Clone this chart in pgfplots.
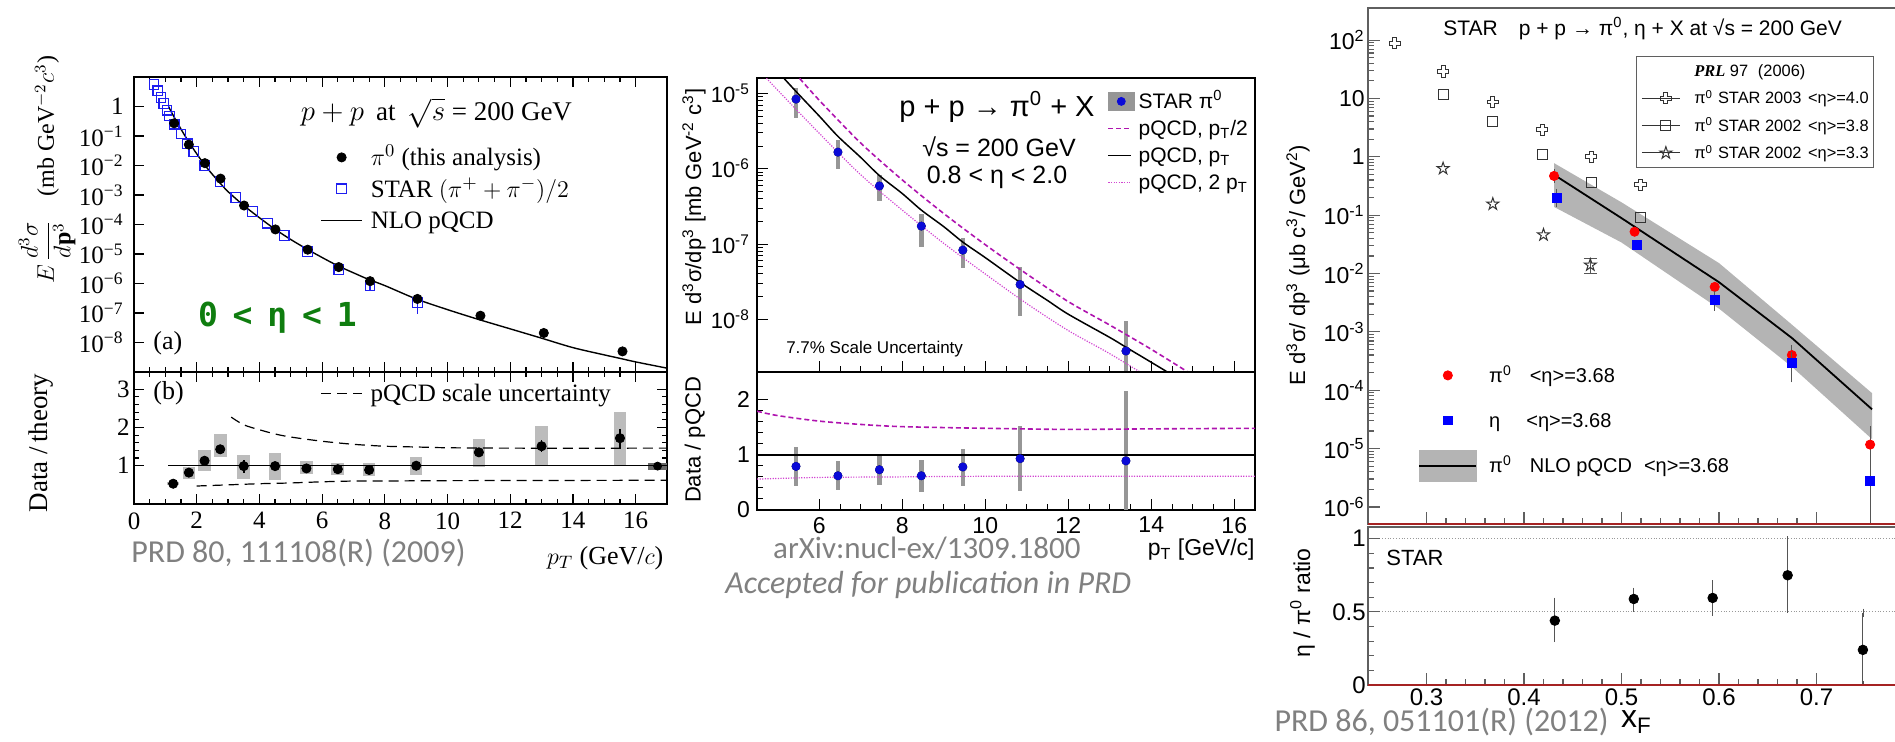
\documentclass[border=0pt]{standalone}
\usepackage{fontspec}
\usepackage{pgfplots}
\pgfplotsset{compat=1.18}
\usetikzlibrary{plotmarks}
\setmainfont{Liberation Serif}
\newfontfamily\helv{Liberation Sans}
\newfontfamily\calib{Carlito}
\newfontfamily\monob{DejaVu Sans Mono}
\newcommand\fs[1]{\fontsize{#1}{#1}\selectfont}
\definecolor{starblue}{RGB}{30,30,240}
\definecolor{boxgray}{RGB}{188,188,188}
\definecolor{darkbox}{RGB}{105,105,105}
\definecolor{prdgray}{RGB}{128,128,128}
\definecolor{etagreen}{RGB}{15,125,15}
\definecolor{magA}{RGB}{175,20,175}
\definecolor{magB}{RGB}{210,70,210}
\definecolor{ptblue}{RGB}{10,10,215}
\definecolor{bargray}{RGB}{150,150,150}
\definecolor{framegray}{RGB}{95,95,95}
\definecolor{bandgray}{RGB}{180,180,180}
\definecolor{redline}{RGB}{165,35,35}
\definecolor{errgray}{RGB}{85,85,85}
\pgfdeclareplotmark{ocross}{%
 \pgfpathmoveto{\pgfqpoint{-0.35\pgfplotmarksize}{\pgfplotmarksize}}%
 \pgfpathlineto{\pgfqpoint{0.35\pgfplotmarksize}{\pgfplotmarksize}}%
 \pgfpathlineto{\pgfqpoint{0.35\pgfplotmarksize}{0.35\pgfplotmarksize}}%
 \pgfpathlineto{\pgfqpoint{\pgfplotmarksize}{0.35\pgfplotmarksize}}%
 \pgfpathlineto{\pgfqpoint{\pgfplotmarksize}{-0.35\pgfplotmarksize}}%
 \pgfpathlineto{\pgfqpoint{0.35\pgfplotmarksize}{-0.35\pgfplotmarksize}}%
 \pgfpathlineto{\pgfqpoint{0.35\pgfplotmarksize}{-\pgfplotmarksize}}%
 \pgfpathlineto{\pgfqpoint{-0.35\pgfplotmarksize}{-\pgfplotmarksize}}%
 \pgfpathlineto{\pgfqpoint{-0.35\pgfplotmarksize}{-0.35\pgfplotmarksize}}%
 \pgfpathlineto{\pgfqpoint{-\pgfplotmarksize}{-0.35\pgfplotmarksize}}%
 \pgfpathlineto{\pgfqpoint{-\pgfplotmarksize}{0.35\pgfplotmarksize}}%
 \pgfpathlineto{\pgfqpoint{-0.35\pgfplotmarksize}{0.35\pgfplotmarksize}}%
 \pgfpathclose\pgfusepathqstroke}
\pgfdeclareplotmark{ostar}{%
 \pgfpathmoveto{\pgfqpoint{0pt}{\pgfplotmarksize}}%
 \pgfpathlineto{\pgfqpoint{0.2245\pgfplotmarksize}{0.309\pgfplotmarksize}}%
 \pgfpathlineto{\pgfqpoint{0.951\pgfplotmarksize}{0.309\pgfplotmarksize}}%
 \pgfpathlineto{\pgfqpoint{0.363\pgfplotmarksize}{-0.118\pgfplotmarksize}}%
 \pgfpathlineto{\pgfqpoint{0.588\pgfplotmarksize}{-0.809\pgfplotmarksize}}%
 \pgfpathlineto{\pgfqpoint{0pt}{-0.382\pgfplotmarksize}}%
 \pgfpathlineto{\pgfqpoint{-0.588\pgfplotmarksize}{-0.809\pgfplotmarksize}}%
 \pgfpathlineto{\pgfqpoint{-0.363\pgfplotmarksize}{-0.118\pgfplotmarksize}}%
 \pgfpathlineto{\pgfqpoint{-0.951\pgfplotmarksize}{0.309\pgfplotmarksize}}%
 \pgfpathlineto{\pgfqpoint{-0.2245\pgfplotmarksize}{0.309\pgfplotmarksize}}%
 \pgfpathclose\pgfusepathqstroke}
\begin{document}
\begin{tikzpicture}
\begin{scope}
\clip (0,0) rectangle (947.5pt,-371pt);
%================ PANEL 1 TOP =================
\begin{axis}[
  at={(67pt,-38.5pt)}, anchor=north west, scale only axis,
  width=266.5pt, height=147.5pt,
  xmin=0, xmax=17, ymode=log, ymin=1e-9, ymax=10,
  clip mode=individual,
  axis line style={line width=1pt},
  every tick/.style={black, line width=0.6pt},
  major tick length=5pt, minor tick length=2.5pt,
  tick align=inside, xtick pos=both, ytick pos=left,
  xtick={0,2,...,16}, minor x tick num=3, xticklabels={},
  ytick={1e-8,1e-7,1e-6,1e-5,1e-4,1e-3,1e-2,1e-1,1},
  yticklabels={10\textsuperscript{−8},10\textsuperscript{−7},10\textsuperscript{−6},10\textsuperscript{−5},10\textsuperscript{−4},10\textsuperscript{−3},10\textsuperscript{−2},10\textsuperscript{−1},1},
  yminorticks=false,
  yticklabel style={font=\fs{12.5}, inner xsep=5pt},
  legend cell align=left,
  legend style={draw=none, fill=none, at={(axis description cs:0.349,0.7695)}, anchor=north west,
    font=\fs{12.5}, inner sep=0pt, row sep=3.75pt,
    nodes={inner sep=0pt, text height=10.1pt, text depth=1.9pt},
    /tikz/every odd column/.style={column sep=4pt}},
  legend image code/.code={\draw[mark repeat=2,mark phase=2,#1] plot coordinates {(0pt,0pt) (10.25pt,0pt) (20.5pt,0pt)};},
]
\addplot[forget plot, black, line width=0.7pt, smooth] coordinates {
 (1.1,1.0) (1.25,0.5) (1.5,0.17) (1.75,0.062) (2,0.025) (2.25,0.0106) (2.5,5.0e-3) (2.75,2.5e-3) (3,1.3e-3) (3.5,4.4e-4) (4,1.7e-4) (4.5,6.9e-5) (5,3.1e-5) (5.5,1.5e-5) (6,7.6e-6) (6.5,4.0e-6) (7,2.3e-6) (7.5,1.35e-6) (8,8.5e-7) (9,3.0e-7) (10,1.3e-7) (11,6.0e-8) (12,2.9e-8) (13,1.4e-8) (14,6.7e-9) (15,3.8e-9) (15.5,2.9e-9) (16,2.2e-9) (17,1.35e-9)};
\addplot[forget plot, only marks, mark=square, mark size=2.4pt, starblue, line width=0.6pt,
  error bars/.cd, y dir=both, y explicit, error mark=none, error bar style={line width=0.8pt, starblue}] coordinates {
 (0.64,5.6) (0.76,3.4) (0.86,2.0) (0.95,1.26) (1.05,0.75) (1.13,0.48) (1.28,0.25) (1.5,0.117) (1.71,0.054) (1.91,0.030) (2.26,0.010) (2.74,2.9e-3) (3.25,8.3e-4) (3.78,2.8e-4) (4.26,1.1e-4) (4.79,4.3e-5) (5.54,1.2e-5) (6.53,3.0e-6) (7.53,8.5e-7) -= (0,2.6e-7) (9.04,2.3e-7) -= (0,1.4e-7)};
\addplot[forget plot, only marks, mark=*, mark size=2.3pt, black] coordinates {
 (1.28,0.27) (1.75,0.051) (2.26,0.012) (2.76,3.6e-3) (3.51,4.4e-4) (4.51,6.8e-5) (5.54,1.4e-5) (6.53,3.6e-6) (7.53,1.2e-6) (9.04,3.0e-7) (11.05,8.1e-8) (13.07,2.1e-8) (15.58,5.0e-9)};
\addlegendimage{only marks, mark=*, mark size=2.3pt, black}
\addlegendentry{$\pi^0$ (this analysis)}
\addlegendimage{only marks, mark=square, mark size=2.4pt, starblue, line width=0.6pt}
\addlegendentry{STAR $(\pi^+ + \pi^-)/2$}
\addlegendimage{black, line width=0.7pt}
\addlegendentry{NLO pQCD}
\node[inner sep=0pt, font=\fs{13.5}] at (axis description cs:0.5675,0.878) {$p+p$\hspace{0.45em}at\hspace{0.45em}$\sqrt{s}$ = 200 GeV};
\node[inner sep=0pt, anchor=west, font=\fs{13}] at (axis description cs:0.0356,0.098) {(a)};
\node[inner sep=0pt, font=\monob\bfseries\fs{16.5}, text=etagreen] at (axis description cs:0.269,0.183) {0\hspace{0.45em}<\hspace{0.45em}η\hspace{0.45em}<\hspace{0.45em}1};
\node[inner sep=0pt, rotate=90, font=\fs{12}] at (axis description cs:-0.163,0.685) {$E\,\displaystyle\frac{d^3\sigma}{d\mathbf{p}^3}$\quad(mb GeV$^{-2}c^3$)};
\end{axis}
%================ PANEL 1 BOTTOM =================
\begin{axis}[
  at={(67pt,-186pt)}, anchor=north west, scale only axis,
  width=266.5pt, height=66pt,
  xmin=0, xmax=17, ymin=0, ymax=3.45, clip mode=individual,
  axis line style={line width=1pt}, every tick/.style={black, line width=0.6pt},
  major tick length=5pt, minor tick length=2.5pt, tick align=inside,
  xtick pos=both, ytick pos=both,
  xtick={0,2,...,16}, xticklabels={0,2,4,6,8,10,12,14,16}, minor x tick num=3,
  ytick={1,2,3}, yticklabels={1,2,3}, minor y tick num=4,
  xticklabel style={font=\fs{12.5}, inner ysep=4pt},
  yticklabel style={font=\fs{12.5}, inner xsep=2pt},
  legend cell align=left,
  legend style={draw=none, fill=none, at={(axis description cs:0.349,0.932)}, anchor=north west, font=\fs{12.5}, inner sep=0pt, nodes={inner sep=0pt, text height=10.1pt, text depth=1.9pt}, /tikz/every odd column/.style={column sep=4pt}},
  legend image code/.code={\draw[#1] (0pt,0pt) -- (20.5pt,0pt);},
]
\addplot[forget plot, only marks, mark=none, error bars/.cd, y dir=both, y explicit, error mark=none,
  error bar style={line width=6.3pt, boxgray}] coordinates {
 (1.25,0.53) += (0,0.04) -= (0,0.04)
 (1.75,0.82) += (0,0.14) -= (0,0.17)
 (2.25,1.13) += (0,0.28) -= (0,0.27)
 (2.75,1.43) += (0,0.39) -= (0,0.20)
 (3.5,0.99) += (0,0.29) -= (0,0.33)
 (4.5,0.99) += (0,0.33) -= (0,0.36)
 (5.5,0.93) += (0,0.20) -= (0,0.15)
 (6.5,0.91) += (0,0.15) -= (0,0.15)
 (7.5,0.89) += (0,0.17) -= (0,0.17)
 (9,1.0) += (0,0.22) -= (0,0.23)
 (11,1.35) += (0,0.36) -= (0,0.38)
 (13,1.51) += (0,0.52) -= (0,0.50)
 (15.5,1.72) += (0,0.68) -= (0,0.71)};
\addplot[forget plot, only marks, mark=none, error bars/.cd, y dir=both, y explicit, error mark=none,
  error bar style={line width=9.4pt, darkbox}] coordinates {(16.7,0.99) += (0,0.09) -= (0,0.09)};
\addplot[forget plot, black, line width=0.7pt] coordinates {(1.1,1) (17,1)};
\addplot[forget plot, black, line width=0.6pt, dash pattern=on 5pt off 3pt, smooth] coordinates {
 (3.1,2.27) (3.5,2.07) (4,1.94) (4.5,1.83) (5,1.75) (6,1.64) (7,1.56) (8,1.51) (9,1.49) (10,1.47) (12,1.46) (17,1.46)};
\addplot[forget plot, black, line width=0.6pt, dash pattern=on 5pt off 3pt, smooth] coordinates {
 (2,0.47) (3,0.50) (4,0.53) (5,0.55) (6,0.58) (7,0.60) (8,0.60) (10,0.61) (17,0.62)};
\addplot[forget plot, only marks, mark=*, mark size=2.3pt, black, error bars/.cd, y dir=both, y explicit, error mark=none, error bar style={line width=0.8pt, black}] coordinates {
 (1.25,0.53) (1.75,0.82) (2.25,1.13) (2.75,1.43) += (0,0.07) -= (0,0.07)
 (3.5,0.99) += (0,0.16) -= (0,0.19) (4.5,0.99) (5.5,0.93) (6.5,0.91) (7.5,0.89) (9,1.0)
 (11,1.35) (13,1.51) += (0,0.15) -= (0,0.15) (15.5,1.72) += (0,0.25) -= (0,0.27)};
\addlegendimage{black, line width=0.6pt, dash pattern=on 5pt off 3pt}
\addlegendentry{pQCD scale uncertainty}
\node[inner sep=0pt, anchor=west, font=\fs{13}] at (axis description cs:0.0356,0.84) {(b)};
\node[inner sep=0pt, rotate=90, font=\fs{13.5}] at (axis description cs:-0.1745,0.462) {Data /\,theory};
\node[inner sep=0pt, anchor=east, font=\fs{13}] at (axis description cs:0.994,-0.409) {$p_T$ (GeV/$c$)};
\node[inner sep=0pt, anchor=west, font=\calib\fs{16}, text=prdgray] at (axis description cs:-0.0056,-0.371) {PRD 80, 111108(R) (2009)};
\end{axis}
%================ PANEL 2 TOP =================
\begin{axis}[
  at={(378.5pt,-39pt)}, anchor=north west, scale only axis,
  width=249pt, height=147pt,
  xmin=4.5, xmax=16.5, ymode=log, ymin=2e-9, ymax=1.6e-5, clip mode=individual,
  axis line style={line width=0.75pt}, every tick/.style={black, line width=0.5pt},
  major tick length=5.5pt, minor tick length=2.8pt, tick align=inside,
  xtick pos=bottom, ytick pos=left,
  xtick={6,8,...,16}, minor x tick num=3, xticklabels={},
  ytick={1e-8,1e-7,1e-6,1e-5},
  yticklabels={10\textsuperscript{-8},10\textsuperscript{-7},10\textsuperscript{-6},10\textsuperscript{-5}},
  yticklabel style={font=\helv\fs{11}},
  legend cell align=left,
  legend style={draw=none, fill=none, at={(axis description cs:0.703,0.9575)}, anchor=north west, font=\helv\fs{10.5}, inner sep=0pt, row sep=3pt, nodes={inner sep=0pt, text height=8.85pt, text depth=1.65pt}, /tikz/every odd column/.style={column sep=2pt}},
  legend image code/.code={\draw[#1] (0pt,0pt) -- (11.5pt,0pt);},
]
\addplot[forget plot, only marks, mark=none, error bars/.cd, y dir=both, y explicit, error mark=none,
  error bar style={line width=2.3pt, bargray}] coordinates {
 (5.44,8.4e-6) += (0,3.3e-6) -= (0,3.7e-6)
 (6.45,1.66e-6) += (0,7.4e-7) -= (0,6.6e-7)
 (7.45,5.9e-7) += (0,2.4e-7) -= (0,2.2e-7)
 (8.46,1.73e-7) += (0,7.7e-8) -= (0,8.2e-8)
 (9.46,8.3e-8) += (0,3.7e-8) -= (0,3.5e-8)
 (10.84,2.9e-8) += (0,2.0e-8) -= (0,1.8e-8)
 (13.39,3.8e-9) += (0,5.8e-9) -= (0,2.3e-9)};
\addplot[forget plot, magA, line width=0.8pt, dash pattern=on 2.5pt off 1.5pt, smooth] coordinates {
 (5.4,1.9e-5) (6,8.1e-6) (7,2.19e-6) (8,7.1e-7) (9,2.54e-7) (10,9.8e-8) (11,4.0e-8) (12,1.72e-8) (13,8.4e-9) (14,4.0e-9) (15,1.82e-9) (15.2,1.55e-9)};
\addplot[forget plot, black, line width=0.75pt, smooth] coordinates {
 (4.9,2.24e-5) (5.0,1.95e-5) (5.44,1.06e-5) (6.0,5.0e-6) (6.45,2.69e-6) (7.0,1.41e-6) (7.45,8.1e-7) (8.0,4.68e-7) (8.46,2.82e-7) (9.0,1.70e-7) (9.46,1.06e-7) (10.0,6.6e-8) (10.84,3.09e-8) (11.5,1.78e-8) (12.0,1.17e-8) (13.0,5.75e-9) (13.39,4.27e-9) (14.0,2.69e-9) (14.6,1.70e-9)};
\addplot[forget plot, magB, line width=0.6pt, dash pattern=on 0.6pt off 0.7pt, smooth] coordinates {
 (4.6,1.9e-5) (5,1.10e-5) (6,2.95e-6) (7,8.3e-7) (8,2.82e-7) (9,1.02e-7) (10,4.0e-8) (11,1.62e-8) (12,7.1e-9) (13,3.5e-9) (14,1.62e-9)};
\addplot[forget plot, only marks, mark=*, mark size=2pt, ptblue] coordinates {
 (5.44,8.4e-6) (6.45,1.66e-6) (7.45,5.9e-7) (8.46,1.73e-7) (9.46,8.3e-8) (10.84,2.9e-8) (13.39,3.8e-9)};
\addlegendimage{legend image code/.code={\fill[bargray] (0pt,-4.5pt) rectangle (13pt,4.5pt); \fill[ptblue] (6.5pt,0pt) circle (2pt);}}
\addlegendentry{STAR π\textsuperscript{0}}
\addlegendimage{magA, line width=0.8pt, dash pattern=on 2.5pt off 1.5pt}
\addlegendentry{pQCD, p\textsubscript{T}/2}
\addlegendimage{black, line width=0.75pt}
\addlegendentry{pQCD, p\textsubscript{T}}
\addlegendimage{magB, line width=0.6pt, dash pattern=on 0.6pt off 0.7pt}
\addlegendentry{pQCD, 2 p\textsubscript{T}}
\node[inner sep=0pt, font=\helv\fs{14.5}] at (axis description cs:0.482,0.901) {p + p → π\textsuperscript{0} + X};
\node[inner sep=0pt, font=\helv\fs{12.5}] at (axis description cs:0.486,0.765) {√s = 200 GeV};
\node[inner sep=0pt, font=\helv\fs{12.5}] at (axis description cs:0.482,0.663) {0.8 < η < 2.0};
\node[inner sep=0pt, anchor=west, font=\helv\fs{8.5}] at (axis description cs:0.058,0.078) {7.7\% Scale Uncertainty};
\node[inner sep=0pt, rotate=90, font=\helv\fs{11}] at (axis description cs:-0.1265,0.561) {E d\textsuperscript{3}σ/dp\textsuperscript{3} [mb GeV\textsuperscript{-2} c\textsuperscript{3}]};
\end{axis}
%================ PANEL 2 BOTTOM =================
\begin{axis}[
  at={(378.5pt,-186pt)}, anchor=north west, scale only axis,
  width=249pt, height=69pt,
  xmin=4.5, xmax=16.5, ymin=0, ymax=2.5, clip mode=individual,
  axis line style={line width=0.75pt}, every tick/.style={black, line width=0.5pt},
  major tick length=5.5pt, minor tick length=2.8pt, tick align=inside,
  xtick pos=bottom, ytick pos=left,
  xtick={6,8,...,16}, xticklabels={6,8,10,12,14,16}, minor x tick num=3,
  ytick={0,1,2}, yticklabels={0,1,2}, minor y tick num=4,
  ticklabel style={font=\helv\fs{11.5}},
]
\addplot[forget plot, only marks, mark=none, error bars/.cd, y dir=both, y explicit, error mark=none,
  error bar style={line width=2.3pt, bargray}] coordinates {
 (5.44,0.79) += (0,0.35) -= (0,0.35)
 (6.45,0.62) += (0,0.27) -= (0,0.26)
 (7.45,0.73) += (0,0.27) -= (0,0.28)
 (8.46,0.62) += (0,0.29) -= (0,0.29)
 (9.46,0.78) += (0,0.32) -= (0,0.34)
 (10.84,0.93) += (0,0.60) -= (0,0.58)
 (13.39,0.89) += (0,1.27) -= (0,0.89)};
\addplot[forget plot, black, line width=0.75pt] coordinates {(4.5,1) (16.5,1)};
\addplot[forget plot, magA, line width=0.8pt, dash pattern=on 2.5pt off 1.5pt, smooth] coordinates {
 (4.5,1.79) (5,1.71) (6,1.61) (7,1.55) (8,1.51) (10,1.48) (12,1.46) (14,1.47) (16.5,1.48)};
\addplot[forget plot, magB, line width=0.6pt, dash pattern=on 0.6pt off 0.7pt, smooth] coordinates {
 (4.5,0.56) (6,0.59) (8,0.60) (10,0.61) (16.5,0.61)};
\addplot[forget plot, only marks, mark=*, mark size=2pt, ptblue] coordinates {
 (5.44,0.79) (6.45,0.62) (7.45,0.73) (8.46,0.62) (9.46,0.78) (10.84,0.93) (13.39,0.89)};
\node[inner sep=0pt, rotate=90, font=\helv\fs{11}] at (axis description cs:-0.1245,0.507) {Data / pQCD};
\node[inner sep=0pt, anchor=east, font=\helv\fs{11.5}] at (axis description cs:1.0,-0.29) {p\textsubscript{T} [GeV/c]};
\node[inner sep=0pt, font=\calib\fs{15.5}, text=prdgray] at (axis description cs:0.341,-0.275) {arXiv:nucl-ex/1309.1800};
\node[inner sep=0pt, font=\calib\itshape\fs{16}, text=prdgray] at (axis description cs:0.344,-0.543) {Accepted for publication in PRD};
\end{axis}
%================ PANEL 3 TOP =================
\begin{axis}[
  at={(684pt,-4pt)}, anchor=north west, scale only axis,
  width=273pt, height=258pt,
  xmin=0.24, xmax=0.80, ymode=log, ymin=5.1e-7, ymax=355, clip mode=individual,
  axis line style={framegray, line width=0.7pt}, every tick/.style={framegray, line width=0.6pt},
  major tick length=6pt, minor tick length=3pt, tick align=inside,
  xtick pos=bottom, ytick pos=left,
  xtick={0.3,0.4,0.5,0.6,0.7}, minor x tick num=4, xticklabels={},
  ytick={1e-6,1e-5,1e-4,1e-3,1e-2,1e-1,1,10,100},
  yticklabels={10\textsuperscript{-6},10\textsuperscript{-5},10\textsuperscript{-4},10\textsuperscript{-3},10\textsuperscript{-2},10\textsuperscript{-1},1,10,10\textsuperscript{2}},
  yticklabel style={font=\helv\fs{11.5}, inner xsep=1.5pt},
  legend cell align=left,
  legend style={draw=framegray, fill=white, at={(axis description cs:0.4908,0.907)}, anchor=north west, font=\helv\fs{8.2}, inner xsep=2.5pt, inner ysep=2.8pt, row sep=4.9pt, nodes={inner sep=0pt, text height=7.3pt, text depth=1.5pt}, /tikz/every odd column/.style={column sep=7pt}},
  legend image code/.code={\path (-5pt,0pt) -- (14pt,0pt); \draw[mark repeat=2,mark phase=2,#1] plot coordinates {(0pt,0pt) (7pt,0pt) (14pt,0pt)};},
]
\addplot[forget plot, fill=bandgray, draw=none] coordinates {
 (0.431,0.776) (0.5,0.166) (0.6,0.0151) (0.675,1.32e-3) (0.757,8.9e-5)
 (0.757,1.45e-5) (0.675,2.5e-4) (0.6,2.5e-3) (0.5,0.034) (0.431,0.138)} -- cycle;
\addplot[forget plot, black, line width=0.9pt] coordinates {
 (0.431,0.49) (0.5,0.089) (0.6,7.1e-3) (0.675,7.8e-4) (0.757,4.7e-5)};
\addplot[forget plot, only marks, mark=ocross, mark size=2.8pt, black!80, line width=0.5pt] coordinates {
 (0.2676,88) (0.317,29) (0.368,8.7) (0.4187,2.9) (0.469,1.0) (0.5195,0.33)};
\addplot[forget plot, only marks, mark=square, mark size=2.5pt, black!80, line width=0.5pt] coordinates {
 (0.317,11.7) (0.368,4.1) (0.419,1.1) (0.469,0.37) (0.519,0.091)};
\addplot[forget plot, only marks, mark=ostar, mark size=3.2pt, black!80, line width=0.5pt,
  error bars/.cd, y dir=both, y explicit, error mark=-, error bar style={errgray, line width=0.4pt}] coordinates {
 (0.317,0.63) (0.368,0.155) (0.42,0.046) (0.468,0.014) += (0,0.004) -= (0,0.004)};
\addplot[forget plot, only marks, mark=*, mark size=2.3pt, red,
  error bars/.cd, y dir=both, y explicit, error mark=-, error mark options={errgray, mark size=2pt}, error bar style={errgray, line width=0.5pt}] coordinates {
 (0.4308,0.47) += (0,0.05) -= (0,0.05) (0.5134,0.052) (0.5956,0.0059) (0.6747,4.0e-4) += (0,1.0e-4) -= (0,1.0e-4) (0.755,1.17e-5) += (0,9e-6) -= (0,5.2e-6)};
\addplot[forget plot, only marks, mark=square*, mark size=2.3pt, blue,
  error bars/.cd, y dir=both, y explicit, error mark=-, error mark options={errgray, mark size=2pt}, error bar style={errgray, line width=0.5pt}] coordinates {
 (0.4337,0.20) += (0,0.04) -= (0,0.04) (0.5155,0.031) (0.5956,0.0035) += (0,8e-4) -= (0,8e-4) (0.6747,2.9e-4) += (0,1.0e-4) -= (0,1.3e-4) (0.755,2.8e-6) += (0,3.2e-6) -= (0,2.79e-6)};
\addlegendimage{empty legend}
\addlegendentry{{\rmfamily\bfseries\itshape PRL} 97\hspace{0.6em}(2006)}
\addlegendimage{only marks, mark=ocross, mark size=2.8pt, black!80, line width=0.5pt}
\addlegendentry{π\textsuperscript{0}\hspace{0.3em}STAR 2003\hspace{0.4em}<η>=4.0}
\addlegendimage{only marks, mark=square, mark size=2.5pt, black!80, line width=0.5pt}
\addlegendentry{π\textsuperscript{0}\hspace{0.3em}STAR 2002\hspace{0.4em}<η>=3.8}
\addlegendimage{only marks, mark=ostar, mark size=3.2pt, black!80, line width=0.5pt}
\addlegendentry{π\textsuperscript{0}\hspace{0.3em}STAR 2002\hspace{0.4em}<η>=3.3}
\draw[redline, line width=0.9pt] (axis description cs:0,0) -- (axis description cs:1,0);
\node[inner sep=0pt, anchor=west, font=\helv\fs{10.5}] at (axis description cs:0.1374,0.961) {STAR\hspace{1em}p + p → π\textsuperscript{0}, η + X at √s = 200 GeV};
\node[inner sep=0pt, rotate=90, font=\helv\fs{11}] at (axis description cs:-0.128,0.502) {E d\textsuperscript{3}σ/ dp\textsuperscript{3} (μb c\textsuperscript{3}/ GeV\textsuperscript{2})};
\end{axis}
% second legend of panel 3
\begin{axis}[
  at={(684pt,-4pt)}, anchor=north west, scale only axis,
  width=273pt, height=258pt,
  xmin=0.24, xmax=0.80, ymin=0, ymax=1, hide axis,
  legend cell align=left,
  legend style={draw=none, fill=none, at={(axis description cs:0.0916,0.3188)}, anchor=north west, font=\helv\fs{10}, inner sep=0pt, row sep=7pt, nodes={inner sep=0pt, text height=11.25pt, text depth=4.25pt}, /tikz/every odd column/.style={column sep=6pt}},
  legend image code/.code={\draw[mark repeat=2,mark phase=2,#1] plot coordinates {(0pt,0pt) (14.25pt,0pt) (28.5pt,0pt)};},
]
\addlegendimage{only marks, mark=*, mark size=2.3pt, red}
\addlegendentry{π\textsuperscript{0}\hspace{9pt}<η>=3.68}
\addlegendimage{only marks, mark=square*, mark size=2.2pt, blue}
\addlegendentry{η\hspace{13pt}<η>=3.68}
\addlegendimage{legend image code/.code={\fill[bandgray] (0pt,-7.75pt) rectangle (28.5pt,7.75pt); \draw[black, line width=0.9pt] (0pt,0pt) -- (28.5pt,0pt);}}
\addlegendentry{π\textsuperscript{0}\hspace{9pt}NLO pQCD\hspace{6pt}<η>=3.68}
\end{axis}
%================ PANEL 3 BOTTOM =================
\begin{axis}[
  at={(684pt,-263.5pt)}, anchor=north west, scale only axis,
  width=273pt, height=79pt,
  xmin=0.24, xmax=0.80, ymin=0, ymax=1.08, clip mode=individual,
  axis line style={framegray, line width=0.7pt}, every tick/.style={framegray, line width=0.6pt},
  major tick length=6pt, minor tick length=3pt, tick align=inside,
  xtick pos=bottom, ytick pos=left,
  xtick={0.3,0.4,0.5,0.6,0.7}, xticklabels={0.3,0.4,0.5,0.6,0.7}, minor x tick num=4,
  ytick={0,0.5,1}, yticklabels={0,0.5,1}, minor y tick num=4,
  ymajorgrids, grid style={gray!80, densely dotted, line width=0.5pt},
  xticklabel style={font=\helv\fs{12}, inner ysep=1.5pt},
  yticklabel style={font=\helv\fs{12}, inner xsep=1pt},
]
\addplot[forget plot, only marks, mark=*, mark size=2.4pt, black,
  error bars/.cd, y dir=both, y explicit, error mark=-, error mark options={errgray, mark size=2pt}, error bar style={errgray, line width=0.5pt}] coordinates {
 (0.4316,0.44) += (0,0.13) -= (0,0.12)
 (0.5126,0.588) += (0,0.05) -= (0,0.06)
 (0.5935,0.595) += (0,0.095) -= (0,0.095)
 (0.6704,0.75) += (0,0.24) -= (0,0.23)
 (0.7476,0.24) += (0,0.255) -= (0,0.24)};
\draw[redline, line width=0.9pt] (axis description cs:0,0) -- (axis description cs:1,0);
\node[inner sep=0pt, anchor=west, font=\helv\fs{11}] at (axis description cs:0.033,0.804) {STAR};
\node[inner sep=0pt, rotate=90, font=\helv\fs{11.5}] at (axis description cs:-0.12,0.519) {η / π\textsuperscript{0} ratio};
\node[inner sep=0pt, anchor=west, font=\helv\fs{16}] at (axis description cs:0.463,-0.234) {x\textsubscript{F}};
\node[inner sep=0pt, anchor=west, font=\calib\fs{16}, text=prdgray] at (axis description cs:-0.172,-0.234) {PRD 86, 051101(R) (2012)};
\end{axis}
\end{scope}
\pgfresetboundingbox
\useasboundingbox (0,0) rectangle (947.5pt,-371pt);
\end{tikzpicture}
\end{document}
